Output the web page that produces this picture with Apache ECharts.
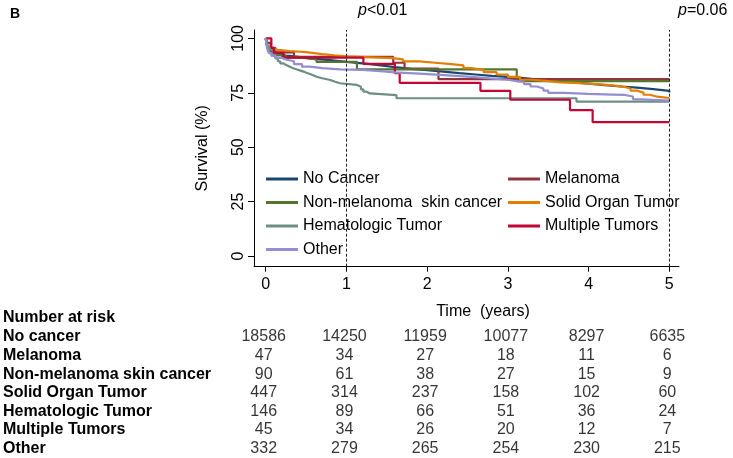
<!DOCTYPE html>
<html><head><meta charset="utf-8">
<script src="https://cdn.jsdelivr.net/npm/echarts@6/dist/echarts.min.js"></script>
<style>html,body{margin:0;padding:0;background:#fff}#c{width:733px;height:458px}</style>
</head><body><div id="c"></div>
<script>
// ---- data ----
const seriesNames = ['No Cancer', 'Melanoma', 'Non-melanoma  skin cancer', 'Solid Organ Tumor', 'Hematologic Tumor', 'Multiple Tumors', 'Other'];
const seriesColors = ['#1a476f', '#90353b', '#55752f', '#e37e00', '#6e8e84', '#c10534', '#938dd2'];

// [time (years), survival (%)] – KM step points
const noCancer = [[0,100],[0.01,97.5],[0.03,95.5],[0.06,94],[0.1,93],[0.2,92],[0.3,91.3],[0.45,90.6],[0.6,90],[0.8,89.2],[1.0,88.5],[1.2,87.7],[1.4,86.8],[1.6,86],[1.8,85.4],[2.0,84.7],[2.2,84],[2.4,83.4],[2.6,82.8],[2.8,82.3],[3.0,81.7],[3.2,81],[3.4,80.6],[3.6,79.8],[3.8,79.2],[4.0,78.5],[4.2,77.9],[4.4,77.4],[4.6,76.7],[4.8,75.9],[5.0,75.1]];
const melanoma = [[0,100],[0.02,97.9],[0.06,95.7],[0.12,93.6],[0.35,91.5],[1.58,88.8],[1.72,86.1],[2.14,81.3],[5.0,81.3]];
const nonMelanoma = [[0,100],[0.01,97.8],[0.03,95.6],[0.06,93.3],[0.12,92.2],[0.25,91.1],[0.45,90.3],[0.63,89.2],[1.13,85.8],[3.11,80.4],[5.0,80.4]];
const solidOrgan = [[0,100],[0.01,97.5],[0.03,95.5],[0.06,94.7],[0.15,94.2],[0.3,93.7],[0.5,92.8],[0.7,92.2],[0.85,91.7],[1.0,91.3],[1.3,90.9],[1.58,90.4],[1.7,89.4],[1.9,88.8],[2.1,88.2],[2.3,87.6],[2.45,86.3],[2.55,85.5],[2.7,84.5],[2.86,83.4],[3.0,82.3],[3.15,81.0],[3.3,80.4],[3.5,79.8],[3.65,79.4],[3.9,79.0],[4.1,78.4],[4.3,77.8],[4.43,77.0],[4.52,76.0],[4.6,75.1],[4.68,74.1],[4.76,73.2],[4.85,72.6],[5.0,72.5]];
const hematologic = [[0,100],[0.02,97.3],[0.04,95.2],[0.06,94.5],[0.09,92.5],[0.12,90.8],[0.15,89.5],[0.18,88.5],[0.22,87.7],[0.26,87.0],[0.3,86.3],[0.34,85.8],[0.38,85.2],[0.43,84.6],[0.48,83.9],[0.53,83.2],[0.58,82.4],[0.63,81.7],[0.7,80.9],[0.8,80.1],[0.86,79.4],[0.92,78.6],[1.13,77.8],[1.18,76.6],[1.21,75.5],[1.25,74.7],[1.29,73.9],[1.62,72.5],[3.85,70.9],[5.0,70.9]];
const multiple = [[0,100],[0.07,95.6],[0.1,93.4],[0.22,91.2],[1.21,88.3],[1.6,84.0],[1.66,79.6],[2.66,75.9],[3.03,71.8],[3.77,67.0],[4.05,61.5],[5.0,61.5]];
const other = [[0,100],[0.01,97],[0.02,95],[0.04,93.2],[0.07,92],[0.12,91],[0.2,90.2],[0.26,89.5],[0.35,88.2],[0.45,87],[0.55,86.3],[0.7,85.8],[0.92,85.5],[1.2,85.0],[1.42,84.4],[1.6,83.8],[1.9,83.2],[2.16,82.4],[2.5,81.6],[2.78,81.0],[3.0,80.4],[3.11,80.0],[3.2,79.0],[3.28,77.9],[3.36,77.0],[3.44,76.0],[3.5,75.0],[3.69,74.5],[4.0,74.2],[4.3,74.0],[4.45,73.3],[4.55,72.0],[4.65,71.4],[5.0,71.3]];

const xTicks = [0, 1, 2, 3, 4, 5];
const yTicks = [0, 25, 50, 75, 100];
const refLines = [1, 5];

// number at risk table
const riskTimes = [0, 1, 2, 3, 4, 5];
const riskRows = ['No cancer', 'Melanoma', 'Non-melanoma skin cancer', 'Solid Organ Tumor', 'Hematologic Tumor', 'Multiple Tumors', 'Other'];
const riskNoCancer = [18586, 14250, 11959, 10077, 8297, 6635];
const riskMelanoma = [47, 34, 27, 18, 11, 6];
const riskNonMelanoma = [90, 61, 38, 27, 15, 9];
const riskSolidOrgan = [447, 314, 237, 158, 102, 60];
const riskHematologic = [146, 89, 66, 51, 36, 24];
const riskMultiple = [45, 34, 26, 20, 12, 7];
const riskOther = [332, 279, 265, 254, 230, 215];

// ---- build ----
const curves = [noCancer, melanoma, nonMelanoma, solidOrgan, hematologic, multiple, other];
const riskTable = [riskNoCancer, riskMelanoma, riskNonMelanoma, riskSolidOrgan, riskHematologic, riskMultiple, riskOther];
const FONT = '"Liberation Sans", Arial, sans-serif';

const series = curves.map((d, i) => ({
  name: seriesNames[i], type: 'line', step: 'end', data: d,
  xAxisIndex: 0, yAxisIndex: 0, showSymbol: false, symbol: 'none',
  color: seriesColors[i], lineStyle: { width: 2.2, color: seriesColors[i] },
  z: 2 + i * 0.01,
  markLine: i === 0 ? {
    silent: true, symbol: 'none', label: { show: false },
    lineStyle: { color: '#222', type: [3, 2], width: 1 },
    data: refLines.map(v => ({ xAxis: v }))
  } : undefined
}));

const tableData = [];
riskTable.forEach((row, r) => row.forEach((v, c) => tableData.push([riskTimes[c], riskRows[r], v])));
series.push({
  type: 'scatter', xAxisIndex: 1, yAxisIndex: 1, data: tableData,
  symbolSize: 1, itemStyle: { color: 'rgba(0,0,0,0)' }, silent: true,
  label: { show: true, position: 'inside', offset: [-2, 0], formatter: p => String(p.value[2]),
    color: '#000', fontSize: 16, fontFamily: FONT }
});

const legendCommon = {
  orient: 'vertical', top: 152, itemWidth: 32, itemHeight: 3, itemGap: 5.5,
  icon: 'rect', backgroundColor: '#fff', selectedMode: false,
  textStyle: { fontSize: 16, fontFamily: FONT, color: '#000', lineHeight: 18 },
  padding: [18, 10, 0, 8]
};
const pRich = {
  i: { fontStyle: 'italic', fontWeight: 'normal', fontSize: 16, fontFamily: FONT, color: '#000' },
  n: { fontWeight: 'normal', fontSize: 16, fontFamily: FONT, color: '#000' }
};

const option = {
  animation: false,
  backgroundColor: '#fff',
  title: [
    { text: 'B', left: 10, top: 7, padding: 0, textStyle: { fontSize: 14, fontWeight: 'bold', fontFamily: FONT, color: '#000' } },
    { text: '{i|p}{n|<0.01}', left: 358, top: 3, padding: 0, textStyle: { fontWeight: 'normal', rich: pRich } },
    { text: '{i|p}{n|=0.06}', left: 678, top: 3, padding: 0, textStyle: { fontWeight: 'normal', rich: pRich } },
    { text: 'Number at risk', left: 3, top: 310, padding: 0, textStyle: { fontSize: 16, fontWeight: 'bold', fontFamily: FONT, color: '#000' } }
  ],
  legend: [
    Object.assign({}, legendCommon, { left: 258, data: [seriesNames[0], seriesNames[2], seriesNames[4], seriesNames[6]] }),
    Object.assign({}, legendCommon, { left: 500, data: [seriesNames[1], seriesNames[3], seriesNames[5]] })
  ],
  grid: [
    { left: 254, right: 54, top: 30, bottom: 191.3, containLabel: false },
    { left: 254, right: 54, top: 327.5, height: 133, containLabel: false }
  ],
  xAxis: [
    { type: 'value', gridIndex: 0, min: -0.145, max: 5.12,
      axisLine: { show: true, onZero: false, lineStyle: { color: '#000', width: 1 } },
      axisTick: { show: true, customValues: xTicks, length: 5, lineStyle: { color: '#000' } },
      axisLabel: { customValues: xTicks, fontSize: 16, fontFamily: FONT, color: '#000', margin: 10 },
      splitLine: { show: false },
      name: 'Time  (years)', nameLocation: 'middle', nameGap: 37,
      nameTextStyle: { fontSize: 16, fontFamily: FONT, color: '#000', padding: [0, 0, 0, 33] } },
    { type: 'value', gridIndex: 1, min: -0.145, max: 5.12, show: false }
  ],
  yAxis: [
    { type: 'value', gridIndex: 0, min: -4.92, max: 103.86,
      axisLine: { show: true, onZero: false, lineStyle: { color: '#000', width: 1 } },
      axisTick: { show: true, customValues: yTicks, length: 6, lineStyle: { color: '#000' } },
      axisLabel: { customValues: yTicks, rotate: 90, fontSize: 16, fontFamily: FONT, color: '#000', margin: 7 },
      splitLine: { show: false },
      name: 'Survival (%)', nameLocation: 'middle', nameGap: 31,
      nameTextStyle: { fontSize: 16, fontFamily: FONT, color: '#000', padding: [0, 0, 12, 0] } },
    { type: 'category', gridIndex: 1, data: riskRows, inverse: true,
      axisLine: { show: false }, axisTick: { show: false }, splitLine: { show: false },
      axisLabel: { interval: 0, align: 'left', margin: 251, fontSize: 16, fontWeight: 'bold', fontFamily: FONT, color: '#000' } }
  ],
  series: series
};

const chart = echarts.init(document.getElementById('c'), null, { renderer: 'canvas' });
chart.setOption(option);
</script>
</body></html>
